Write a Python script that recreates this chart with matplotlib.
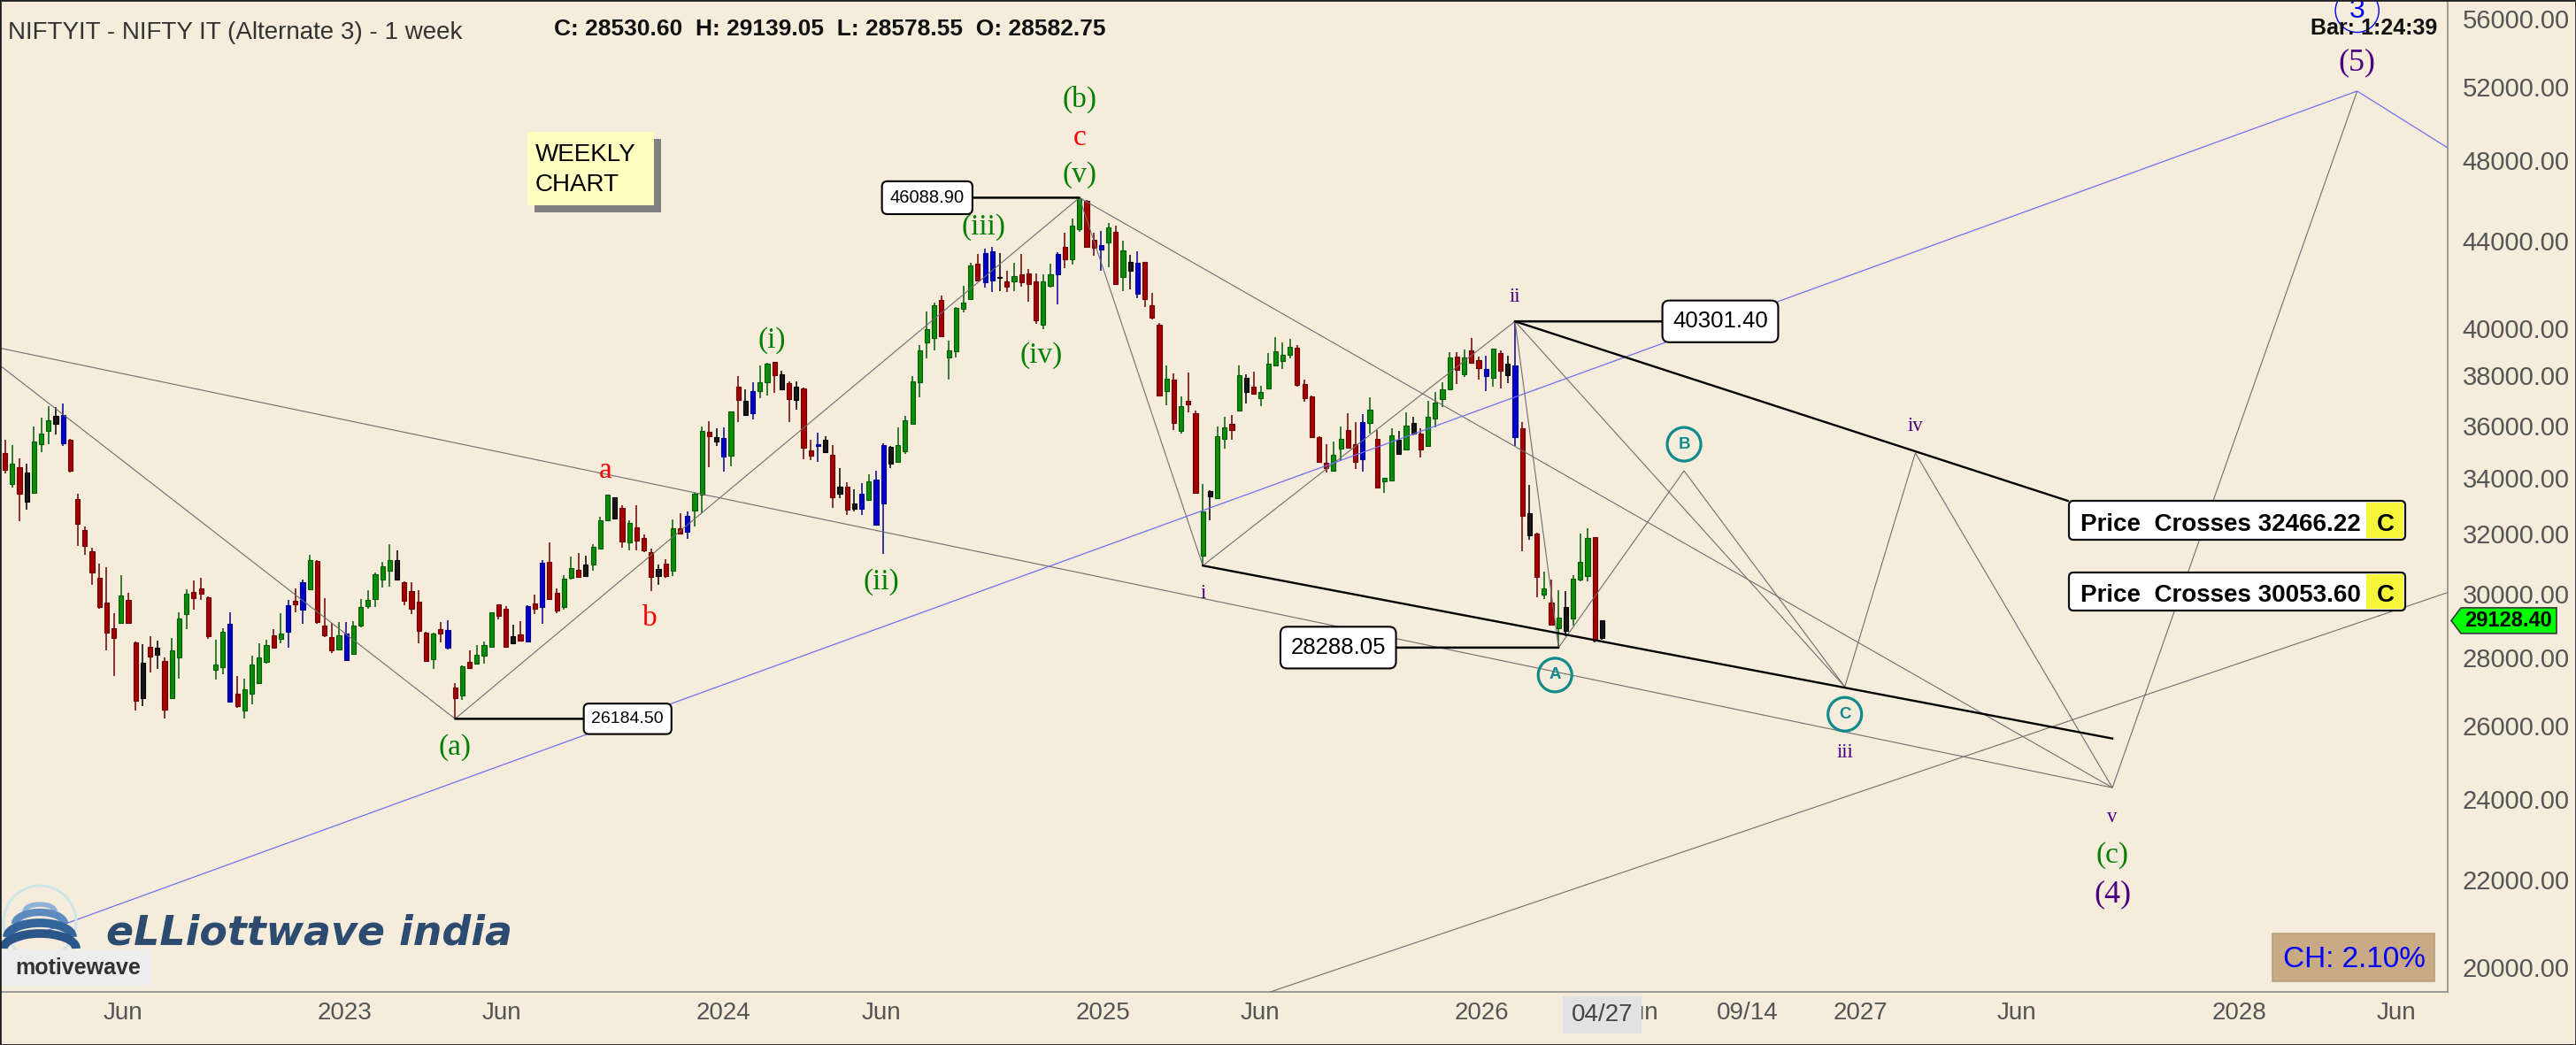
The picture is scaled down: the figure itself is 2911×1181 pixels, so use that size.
import matplotlib
matplotlib.use("Agg")
import matplotlib.pyplot as plt
import matplotlib.dates as mdates
from matplotlib.patches import Rectangle, FancyBboxPatch, Polygon, Circle, Arc
from matplotlib.transforms import IdentityTransform
from matplotlib.ticker import FixedLocator, NullLocator, FuncFormatter
import numpy as np
import pandas as pd

plt.rcParams['font.family'] = ['Liberation Sans', 'DejaVu Sans']

# weekly bars, NIFTY IT, first bar week of 2022-02-07
first_bar = '2022-02-07'
opens = [
    34930, 33790, 34410, 33130, 33470, 35280, 35780, 36050, 36400, 35450,
    33230, 32130, 31410, 30520, 29710, 28890, 29050, 29780, 28450, 26790,
    28320, 28070, 27890, 26770, 27980, 29340, 30040, 30160, 29880, 27610,
    27690, 29020, 26910, 26410, 26910, 27230, 27850, 28660, 28550, 28780,
    29750, 29480, 30140, 31090, 28980, 28610, 28230, 28720, 28100, 28960,
    29580, 29810, 30460, 30750, 31100, 30360, 30070, 29730, 28750, 27930,
    28870, 28840, 27100, 26860, 27850, 27800, 28050, 28310, 29650, 29500,
    28410, 28690, 28480, 29680, 29570, 31050, 30020, 29560, 30500, 30780,
    30580, 30950, 31500, 32470, 33290, 32920, 31720, 32240, 31870, 31380,
    30580, 30990, 30750, 32210, 32070, 32830, 33380, 35740, 35550, 35510,
    34830, 37560, 36980, 36490, 37380, 37710, 38560, 38040, 37680, 37020,
    37490, 35030, 35200, 35430, 34870, 33420, 33680, 32890, 32890, 33200,
    33950, 33070, 35170, 34610, 35000, 36050, 37710, 39380, 39590, 41260,
    38750, 39000, 40840, 41280, 42890, 42060, 43470, 42250, 42080, 42080,
    42410, 42440, 42080, 40140, 41900, 42410, 43710, 43100, 44530, 45940,
    44040, 43580, 43900, 44430, 42300, 42990, 41510, 42980, 41000, 40170,
    37380, 37820, 35780, 36960, 36490, 31250, 33340, 33260, 35480, 36050,
    36580, 37900, 37530, 37080, 37460, 38410, 38590, 38880, 39180, 37660,
    37140, 35550, 34580, 34280, 35110, 35830, 35280, 34690, 36080, 35480,
    33880, 33920, 35430, 35060, 36080, 35680, 35210, 36260, 37050, 37440,
    38800, 38060, 39050, 38650, 38260, 37900, 38930, 38020, 38430, 35890,
    32730, 32020, 29970, 29710, 28890, 29560, 29190, 30460, 30580, 31880,
    28582.75]
highs = [
    35430, 35250, 34750, 34540, 35970, 36290, 36760, 36710, 36870, 35480,
    33420, 32250, 31520, 30980, 30870, 29360, 30610, 30020, 28470, 28400,
    28650, 28500, 27980, 28590, 29390, 30130, 30430, 30520, 29900, 28520,
    28890, 29380, 27420, 27350, 28050, 28410, 28520, 28870, 29360, 29780,
    30160, 30460, 31280, 31100, 29860, 29060, 29070, 29090, 29120, 29830,
    30120, 30700, 31050, 31640, 31440, 30390, 30380, 30100, 28770, 28750,
    29090, 29140, 27230, 27740, 28200, 28370, 28470, 29400, 29660, 29590,
    29010, 29120, 29610, 29970, 31100, 31700, 30160, 30600, 31220, 31350,
    31240, 31650, 32590, 33400, 33310, 33010, 32470, 33020, 31980, 31500,
    30960, 31140, 32500, 32730, 32780, 33470, 35970, 36160, 35890, 35930,
    36550, 37980, 37440, 37710, 38410, 38530, 38570, 38190, 37770, 37760,
    37500, 35430, 35710, 35590, 35230, 34360, 33850, 33580, 33810, 34150,
    34260, 35310, 35200, 35910, 36370, 37980, 39280, 40750, 41120, 41440,
    39470, 40920, 41880, 42960, 43350, 43600, 43680, 43400, 42580, 42960,
    43350, 42660, 42440, 42410, 42920, 43440, 44390, 45070, 46088.90, 45970,
    44360, 44470, 44860, 44710, 44000, 43310, 43480, 42990, 41580, 40230,
    38430, 38100, 37140, 38120, 36570, 33790, 33560, 35970, 36350, 36400,
    38430, 38060, 38160, 37580, 38930, 39620, 39400, 39550, 39280, 37820,
    37170, 35570, 35260, 35360, 35970, 36490, 36120, 36430, 37110, 35820,
    34010, 35880, 35800, 36510, 36340, 35890, 36980, 37320, 37740, 38960,
    38990, 39090, 39570, 38800, 38830, 39130, 39050, 38840, 40301.40, 36120,
    33740, 32050, 30720, 30460, 30100, 30070, 30600, 32000, 32190, 31900,
    29139.05]
lows = [
    34170, 33660, 32440, 32850, 33470, 34980, 35280, 35660, 35210, 34200,
    31580, 31280, 30280, 29500, 28200, 27430, 29050, 29030, 26410, 26560,
    27530, 27640, 26190, 26770, 27340, 28870, 29470, 29800, 28570, 27330,
    27490, 26650, 26510, 26190, 26600, 27230, 27800, 28270, 28430, 28280,
    29400, 29030, 30140, 29030, 28610, 28110, 28230, 27900, 28090, 28910,
    29500, 29560, 30190, 30230, 30450, 29610, 29340, 28430, 27850, 27640,
    28450, 28230, 26184.50, 26730, 27640, 27780, 27790, 28300, 29170, 28310,
    28400, 28490, 28450, 29330, 29030, 29820, 29350, 29480, 30460, 30520,
    30570, 30750, 31490, 32460, 32500, 31520, 31430, 31440, 31370, 30070,
    30280, 30500, 30580, 31990, 31820, 32260, 32730, 34390, 35200, 34230,
    34430, 36140, 36370, 36220, 37080, 37200, 37290, 37410, 36120, 36610,
    34700, 34680, 34610, 34950, 32910, 33280, 32680, 32780, 32670, 33190,
    32290, 31310, 34360, 34600, 34910, 36040, 37100, 38720, 39060, 39650,
    37820, 38750, 40710, 41270, 42070, 41810, 41610, 41640, 41620, 41640,
    41850, 41180, 40190, 39970, 41810, 41050, 42710, 42850, 44430, 43650,
    43260, 42580, 42750, 41970, 41630, 41740, 41340, 40950, 40400, 37170,
    36780, 35820, 35680, 36520, 33440, 30920, 32470, 33250, 35090, 35430,
    36570, 36870, 37250, 36750, 37450, 38400, 38260, 38700, 37550, 36950,
    35540, 34580, 34210, 34230, 34670, 35110, 34340, 34250, 35680, 33630,
    33450, 33900, 34870, 35050, 35620, 34760, 35200, 35910, 36720, 37430,
    37650, 37940, 38500, 37820, 37380, 37560, 37460, 37700, 35210, 31410,
    31800, 29880, 29830, 28980, 28288.05, 28630, 28980, 30390, 30400, 28450,
    28530.60]
closes = [
    34310, 34530, 33420, 34210, 35380, 35680, 36190, 36370, 35320, 34280,
    32360, 31580, 30680, 29560, 28750, 28590, 29940, 29060, 26700, 27820,
    28020, 28280, 26450, 28200, 29190, 30000, 29850, 30000, 28640, 27780,
    28770, 26670, 26560, 27030, 27770, 28000, 28370, 28280, 28730, 29630,
    29640, 30380, 31100, 29070, 28660, 28200, 28660, 27920, 28960, 29560,
    29800, 30630, 30900, 31100, 30460, 29760, 29500, 28810, 27870, 28720,
    28720, 28290, 26780, 27730, 27670, 28070, 28360, 29390, 29280, 28320,
    28630, 28500, 29600, 29510, 31030, 29830, 29450, 30480, 30850, 30550,
    30960, 31550, 32470, 33390, 32540, 31750, 32390, 31770, 31430, 30550,
    30820, 30580, 32210, 32000, 32630, 33420, 35800, 35590, 35360, 34800,
    36540, 37020, 36410, 37350, 37740, 38500, 38000, 37440, 37050, 37530,
    35140, 34840, 35280, 34970, 33310, 33680, 32850, 33070, 33420, 33870,
    32330, 35230, 34540, 35230, 36200, 37760, 39060, 39970, 41010, 39660,
    39060, 40910, 41140, 42820, 42140, 43420, 42140, 42280, 41850, 42340,
    42040, 41980, 40360, 42080, 42410, 43370, 43100, 44710, 46070, 43680,
    43650, 43760, 44640, 41980, 43540, 42580, 42960, 41280, 40450, 37200,
    37860, 36080, 36750, 36840, 33450, 32780, 33520, 35590, 35910, 35820,
    38010, 37340, 37260, 37340, 38500, 39020, 38860, 39190, 37600, 37090,
    35550, 34590, 34360, 34870, 35480, 35140, 34590, 36140, 36610, 33660,
    34000, 35620, 34890, 36000, 35680, 35060, 36340, 36900, 37440, 38750,
    38220, 38750, 38530, 38310, 37980, 39120, 38190, 38500, 35550, 32630,
    31950, 30550, 30160, 29000, 29210, 28810, 30480, 31050, 31850, 28500,
    29128.40]

# projected path after wave A
proj_labels = ['B', 'C', 'iv', 'v', '(5)']
proj_dates = ['2026-07-15', '2026-12-17', '2027-02-23', '2027-09-01', '2028-04-24']
proj_prices = [34270, 27110, 34940, 24300, 51740]

# ends of the long trend lines
edge_start = '2022-02-01'
edge_end = '2028-08-17'
long_line_start = 39160
a_line_start = 38460
purple_start = 20420
purple_end = 47710
lower_line = [('2025-06-01', 19395), ('2028-08-17', 30350)]
upper_thick_end = ('2027-07-20', 33171)
lower_thick_end = ('2027-09-01', 25631)

y_ticks = [20000, 22000, 24000, 26000, 28000, 30000, 32000, 34000, 36000,
           38000, 40000, 44000, 48000, 52000, 56000]
x_tick_dates = ['2022-06-01', '2023-01-01', '2023-06-01', '2024-01-01', '2024-06-01',
                '2025-01-01', '2025-06-01', '2026-01-01', '2026-06-01', '2026-09-14',
                '2027-01-01', '2027-06-01', '2028-01-01', '2028-06-01']
x_tick_labels = ['Jun', '2023', 'Jun', '2024', 'Jun', '2025', 'Jun', '2026', 'Jun',
                 '09/14', '2027', 'Jun', '2028', 'Jun']

W, H = 2911, 1181
BG = '#F5ECDC'
GREEN = '#008000'
RED = '#FF0000'
PURPLE = '#4B0082'
TEAL = '#108A8A'
GREY = '#6E6E6E'
SERIF = ['Liberation Serif', 'DejaVu Serif']
ID = IdentityTransform()


def dn(s):
    return mdates.date2num(pd.Timestamp(s))


fig = plt.figure(figsize=(W / 100, H / 100), dpi=100, facecolor=BG)
ax = fig.add_axes([0, 60 / H, 2766 / W, 1121 / H], facecolor=BG)

px_per_day = 1.172
x0 = dn('2023-01-01') - 390 / px_per_day
ax.set_xlim(x0, x0 + 2766 / px_per_day)
ax.set_yscale('log')
ax.set_ylim(19470, 57115)

# candles: inside bars black, outside bars blue
o, h, l, c = map(np.array, (opens, highs, lows, closes))
dates = mdates.date2num(pd.date_range(first_bar, periods=len(c), freq='7D'))
kind = []
for i in range(len(c)):
    if i and h[i] <= h[i - 1] and l[i] >= l[i - 1]:
        kind.append('inside')
    elif i and h[i] > h[i - 1] and l[i] < l[i - 1]:
        kind.append('outside')
    elif c[i] >= o[i]:
        kind.append('up')
    else:
        kind.append('down')
fill = {'up': '#0C8C0C', 'down': '#A30000', 'inside': '#161616', 'outside': '#0000C8'}
edge = {'up': '#005A00', 'down': '#6A0000', 'inside': '#000000', 'outside': '#000088'}
ax.vlines(dates, l, h, colors=[edge[k] for k in kind], lw=1.1, zorder=3)
ax.bar(dates, np.abs(c - o), bottom=np.minimum(o, c), width=4.4,
       color=[fill[k] for k in kind], edgecolor=[edge[k] for k in kind], lw=0.8, zorder=4)

# wave points
p_a = (dates[62], l[62])
p_b = (dates[148], h[148])
p_i = (dates[165], l[165])
p_ii = (dates[208], h[208])
p_A = (dates[214], l[214])
proj = {k: (dn(d), p) for k, d, p in zip(proj_labels, proj_dates, proj_prices)}


def line(pts, **kw):
    ax.plot([p[0] for p in pts], [p[1] for p in pts], **kw)


thin = dict(color=GREY, lw=0.8, zorder=5, solid_capstyle='butt')
line([(dn(edge_start), long_line_start), proj['v']], **thin)
line([(dn(edge_start), a_line_start), p_a], **thin)
line([p_a, p_b, p_i, p_ii, p_A, proj['B'], proj['C'], proj['iv'], proj['v'], proj['(5)']], **thin)
line([p_b, proj['v']], **thin)
line([p_ii, proj['C']], **thin)
line([(dn(d), p) for d, p in lower_line], **thin)
line([(dn(edge_start), purple_start), proj['(5)'], (dn(edge_end), purple_end)],
     color='#7070F0', lw=0.9, zorder=5)
thick = dict(color='black', lw=1.7, zorder=6)
line([p_ii, (dn(upper_thick_end[0]), upper_thick_end[1])], **thick)
line([p_i, (dn(lower_thick_end[0]), lower_thick_end[1])], **thick)


def label(txt, pt, dx, dy, color, size, family=SERIF, weight='normal', circle=None):
    kw = {}
    if circle:
        kw['bbox'] = dict(boxstyle='circle,pad=%s' % circle[1], fc='none', ec=circle[0],
                          lw=circle[2])
    ax.annotate(txt, xy=pt, xytext=(dx, dy), textcoords='offset pixels', ha='center',
                va='center', color=color, fontsize=size, family=family, weight=weight,
                zorder=8, annotation_clip=False, **kw)


ring = (TEAL, 0.56, 2.3)
label('(a)', p_a, 0, -32, GREEN, 24)
label('a', (dates[83], h[83]), -2, 27, RED, 24)
label('b', (dates[89], l[89]), -1, -31, RED, 24)
label('(i)', (dates[106], h[106]), -3, 24, GREEN, 24)
label('(ii)', (dates[121], l[121]), -2, -31, GREEN, 24)
label('(iii)', (dates[136], h[136]), -10, 23, GREEN, 24)
label('(iv)', (dates[143], l[143]), -2, -30, GREEN, 24)
label('(v)', p_b, 0, 26, GREEN, 24)
label('c', p_b, 0, 68, RED, 24)
label('(b)', p_b, 0, 111, GREEN, 24)
label('i', p_i, 0, -31, PURPLE, 16.5)
label('ii', p_ii, 0, 28, PURPLE, 16.5)
label('A', p_A, -4, -31, TEAL, 13.5, family=['Liberation Sans'], weight='bold', circle=ring)
label('B', proj['B'], 0, 30, TEAL, 13.5, family=['Liberation Sans'], weight='bold', circle=ring)
label('C', proj['C'], 0, -31, TEAL, 13.5, family=['Liberation Sans'], weight='bold', circle=ring)
label('iii', proj['C'], 0, -74, PURPLE, 16.5)
label('iv', proj['iv'], 0, 30, PURPLE, 16.5)
label('v', proj['v'], 0, -33, PURPLE, 16.5)
label('(c)', proj['v'], 0, -76, GREEN, 24)
label('(4)', proj['v'], 0, -121, PURPLE, 26)
label('(5)', proj['(5)'], 0, 32, PURPLE, 26)
label('3', proj['(5)'], 0, 91, '#0000FF', 23, family=['Liberation Sans'],
      circle=('#0000FF', 0.3, 1.0))


# price boxes joined to their pivots
def price_box(pt, dx, size):
    ax.annotate('%.2f' % pt[1], xy=pt, xytext=(dx, 0), textcoords='offset pixels',
                ha='center', va='center', fontsize=size, color='black', zorder=9,
                bbox=dict(boxstyle='round,pad=0.45,rounding_size=0.3', fc='white',
                          ec='black', lw=1.5),
                arrowprops=dict(arrowstyle='-', color='black', lw=1.8, shrinkA=0, shrinkB=0))


price_box(p_a, 195, 14)
price_box(p_b, -172, 14.5)
price_box(p_ii, 232, 18.5)
price_box(p_A, -249, 18.5)

# axes styling
ax.yaxis.tick_right()
ax.yaxis.set_major_locator(FixedLocator(y_ticks))
ax.yaxis.set_minor_locator(NullLocator())
ax.yaxis.set_major_formatter(FuncFormatter(lambda v, _: '%.2f' % v))
ax.set_xticks([dn(d) for d in x_tick_dates])
ax.set_xticklabels(x_tick_labels)
ax.tick_params(axis='y', length=0, pad=12, labelsize=21, labelcolor='#555555')
ax.tick_params(axis='x', length=0, pad=8, labelsize=20, labelcolor='#555555')
for s in ('top', 'left'):
    ax.spines[s].set_visible(False)
for s in ('right', 'bottom'):
    ax.spines[s].set_color('#8C8C8C')
    ax.spines[s].set_linewidth(1.2)


def rect_px(x0, y0, x1, y1, **kw):
    fig.add_artist(Rectangle((x0, H - y1), x1 - x0, y1 - y0, transform=ID, **kw))


def rbox_px(x0, y0, x1, y1, r, **kw):
    fig.add_artist(FancyBboxPatch((x0, H - y1), x1 - x0, y1 - y0,
                                  boxstyle='round,pad=0,rounding_size=%s' % r,
                                  transform=ID, **kw))


def text_px(x, y, s, **kw):
    fig.text(x / W, 1 - y / H, s, **kw)


# header
text_px(9, 44, 'NIFTYIT - NIFTY IT (Alternate 3) - 1 week', fontsize=20, color='#333333',
        va='baseline')
text_px(626, 40, 'C: 28530.60  H: 29139.05  L: 28578.55  O: 28582.75', fontsize=19,
        weight='bold', color='#111111', va='baseline')
text_px(2754, 39, 'Bar: 1:24:39', fontsize=18, weight='bold', color='#111111',
        ha='right', va='baseline')

# note box
rect_px(604, 157, 747, 240, fc='#808080', ec='none')
rect_px(596, 149, 739, 232, fc='#FFFFC2', ec='none')
text_px(605, 182, 'WEEKLY', fontsize=20, color='black', va='baseline')
text_px(605, 216, 'CHART', fontsize=20, color='black', va='baseline')

# alert boxes
for (y0, y1, txt) in [(566, 610, 'Price  Crosses 32466.22'),
                      (647, 690, 'Price  Crosses 30053.60')]:
    rbox_px(2338, y0, 2718, y1, 5, fc='white', ec='#111111', lw=1.6)
    rect_px(2674, y0 + 2, 2716, y1 - 2, fc='#F5F53A', ec='none')
    text_px(2351, y1 - 10, txt, fontsize=20, weight='bold', color='black', va='baseline')
    text_px(2696, y1 - 10, 'C', fontsize=20, weight='bold', color='black', ha='center',
            va='baseline')

# last price tag
y_last = ax.transData.transform((ax.get_xlim()[1], c[-1]))[1]
fig.add_artist(Polygon([(2770, y_last), (2781, y_last + 14.5), (2889, y_last + 14.5),
                        (2889, y_last - 14.5), (2781, y_last - 14.5)], closed=True,
                       transform=ID, fc='#00FF00', ec='#3A3A3A', lw=1.2))
fig.text(2835 / W, y_last / H, '%.2f' % c[-1], fontsize=17, weight='bold', color='black',
         ha='center', va='center')

# change box
rect_px(2568, 1055, 2751, 1109, fc='#C9AA84', ec='#B8A080', lw=1.2)
text_px(2660, 1093, 'CH: 2.10%', fontsize=24, color='#0000FF', ha='center', va='baseline')

# current bar date on the time axis
rect_px(1766, 1126, 1855, 1168, fc='#E2E2E2', ec='none')
text_px(1810.5, 1147, '04/27', fontsize=20, color='#444444', ha='center', va='center')

# logo
fig.add_artist(Circle((45, H - 1042), 41, transform=ID, fill=False, ec='#CDE6EA', lw=2))
for cy, wd, ht, lw, col in [(H - 1030, 34, 16, 4, '#8FB2D8'), (H - 1044, 56, 26, 6, '#5F8CC0'),
                            (H - 1059, 74, 32, 7, '#33649A'), (H - 1072, 82, 34, 7, '#2A5688')]:
    fig.add_artist(Arc((45, cy), wd, ht, theta1=0, theta2=180, transform=ID, color=col, lw=lw))
text_px(120, 1068, 'eLLiottwave india', fontsize=33, weight='bold', style='italic',
        color='#2D4B6E', family='DejaVu Sans', va='baseline')
rect_px(0, 1073, 170, 1115, fc='#EDEDED', ec='none')
text_px(17, 1101, 'motivewave', fontsize=18, weight='bold', color='#333333', va='baseline')

fig.add_artist(Rectangle((0, 0), 1, 1, transform=fig.transFigure, fill=False,
                         ec='#202020', lw=2))

fig.savefig('out.png', dpi=100, facecolor=BG)
